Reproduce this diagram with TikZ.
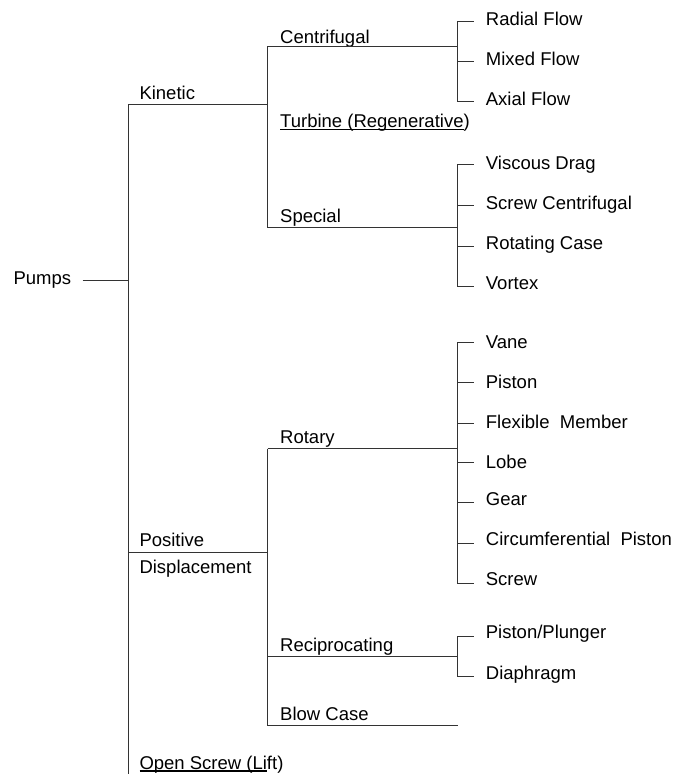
\documentclass[tikz,border=0pt]{standalone}
\usepackage{fontspec}
\setmainfont{Liberation Sans}
\newcommand\myul[1]{\setbox0\hbox{#1}\rlap{\rule[-2.3pt]{\wd0}{1.2pt}}\box0}
\begin{document}
\begin{tikzpicture}[x=1pt,y=-1pt,
  lbl/.style={anchor=base west,inner sep=0pt,font=\fontsize{18.5}{22}\selectfont},
  conn/.style={line width=1.3pt,draw=black!80,line join=miter}]
\useasboundingbox (0,0) rectangle (675,778);
% labels
\node[lbl] (pumps) at (13.3,284) {Pumps};
\node[lbl] (kin) at (139.3,99.3) {Kinetic};
\node[lbl] (cen) at (280,43.3) {Centrifugal};
\node[lbl] (tur) at (280,127.7) {\myul{Turbine (Regenerative})};
\node[lbl] (spe) at (280,222) {Special};
\node[lbl] (rad) at (485.7,26) {Radial Flow};
\node[lbl] (mix) at (485.7,65.7) {Mixed Flow};
\node[lbl] (axi) at (485.7,105.3) {Axial Flow};
\node[lbl] (vis) at (485.7,170) {Viscous Drag};
\node[lbl] (scf) at (485.7,209.3) {Screw Centrifugal};
\node[lbl] (rca) at (485.7,249.3) {Rotating Case};
\node[lbl] (vor) at (485.7,289.3) {Vortex};
\node[lbl] (pos) at (139.3,546) {Positive};
\node[lbl] (dis) at (139.3,573.3) {Displacement};
\node[lbl] (rot) at (280,443.3) {Rotary};
\node[lbl] (rec) at (280,651) {Reciprocating};
\node[lbl] (blow) at (280,720.7) {Blow Case};
\node[lbl] (open) at (139.3,769.3) {\myul{Open Screw (Li}ft)};
\node[lbl] (vane) at (485.7,348.3) {Vane};
\node[lbl] (pis) at (485.7,388.3) {Piston};
\node[lbl] (flex) at (485.7,428.3) {Flexible\ \ Member};
\node[lbl] (lobe) at (485.7,468.3) {Lobe};
\node[lbl] (gear) at (485.7,505.7) {Gear};
\node[lbl] (circ) at (485.7,545.7) {Circumferential\ \ Piston};
\node[lbl] (scr) at (485.7,585.7) {Screw};
\node[lbl] (plu) at (485.7,638.3) {Piston/Plunger};
\node[lbl] (dia) at (485.7,679) {Diaphragm};
% junction coordinates
\coordinate (p0) at (82.5,280.5);
\coordinate (p1) at (128.5,280.5);
\coordinate (t0) at (128.5,104.5);
\coordinate (t1) at (128.5,773.5);
\coordinate (k1) at (267.5,104.5);
\coordinate (c0) at (267.5,46.5);
\coordinate (c1) at (457.5,46.5);
\coordinate (s0) at (267.5,227.5);
\coordinate (s1) at (457.5,227.5);
\coordinate (d0) at (128.5,552.5);
\coordinate (d1) at (267.5,552.5);
\coordinate (r0) at (267.5,448.5);
\coordinate (r1) at (457.5,448.5);
\coordinate (q0) at (267.5,656.5);
\coordinate (q1) at (457.5,656.5);
\coordinate (b0) at (267.5,725.5);
\coordinate (b1) at (457.5,725.5);
% connectors
\draw[conn] (p0) -- (p1);
\draw[conn] (t0) -- (t1);
\draw[conn] (t0) -- (k1);
\draw[conn] (c0) -- (s0);
\draw[conn] (c0) -- (c1);
\draw[conn] (s0) -- (s1);
\draw[conn] (d0) -- (d1);
\draw[conn] (r0) -- (b0);
\draw[conn] (r0) -- (r1);
\draw[conn] (q0) -- (q1);
\draw[conn] (b0) -- (b1);
% brackets
\draw[conn] (473.5,21.5) -- (457.5,21.5) -- (457.5,101.5) -- (473.5,101.5);
\draw[conn] (457.5,61.5) -- (473.5,61.5);
\draw[conn] (473.5,164.5) -- (457.5,164.5) -- (457.5,286.5) -- (473.5,286.5);
\foreach \yy in {205.5,246.5} \draw[conn] (457.5,\yy) -- (473.5,\yy);
\draw[conn] (473.5,342.5) -- (457.5,342.5) -- (457.5,583.5) -- (473.5,583.5);
\foreach \yy in {382.5,423.5,462.5,502.5,543.5} \draw[conn] (457.5,\yy) -- (473.5,\yy);
\draw[conn] (473.5,636.5) -- (457.5,636.5) -- (457.5,676.5) -- (473.5,676.5);
\end{tikzpicture}
\end{document}
